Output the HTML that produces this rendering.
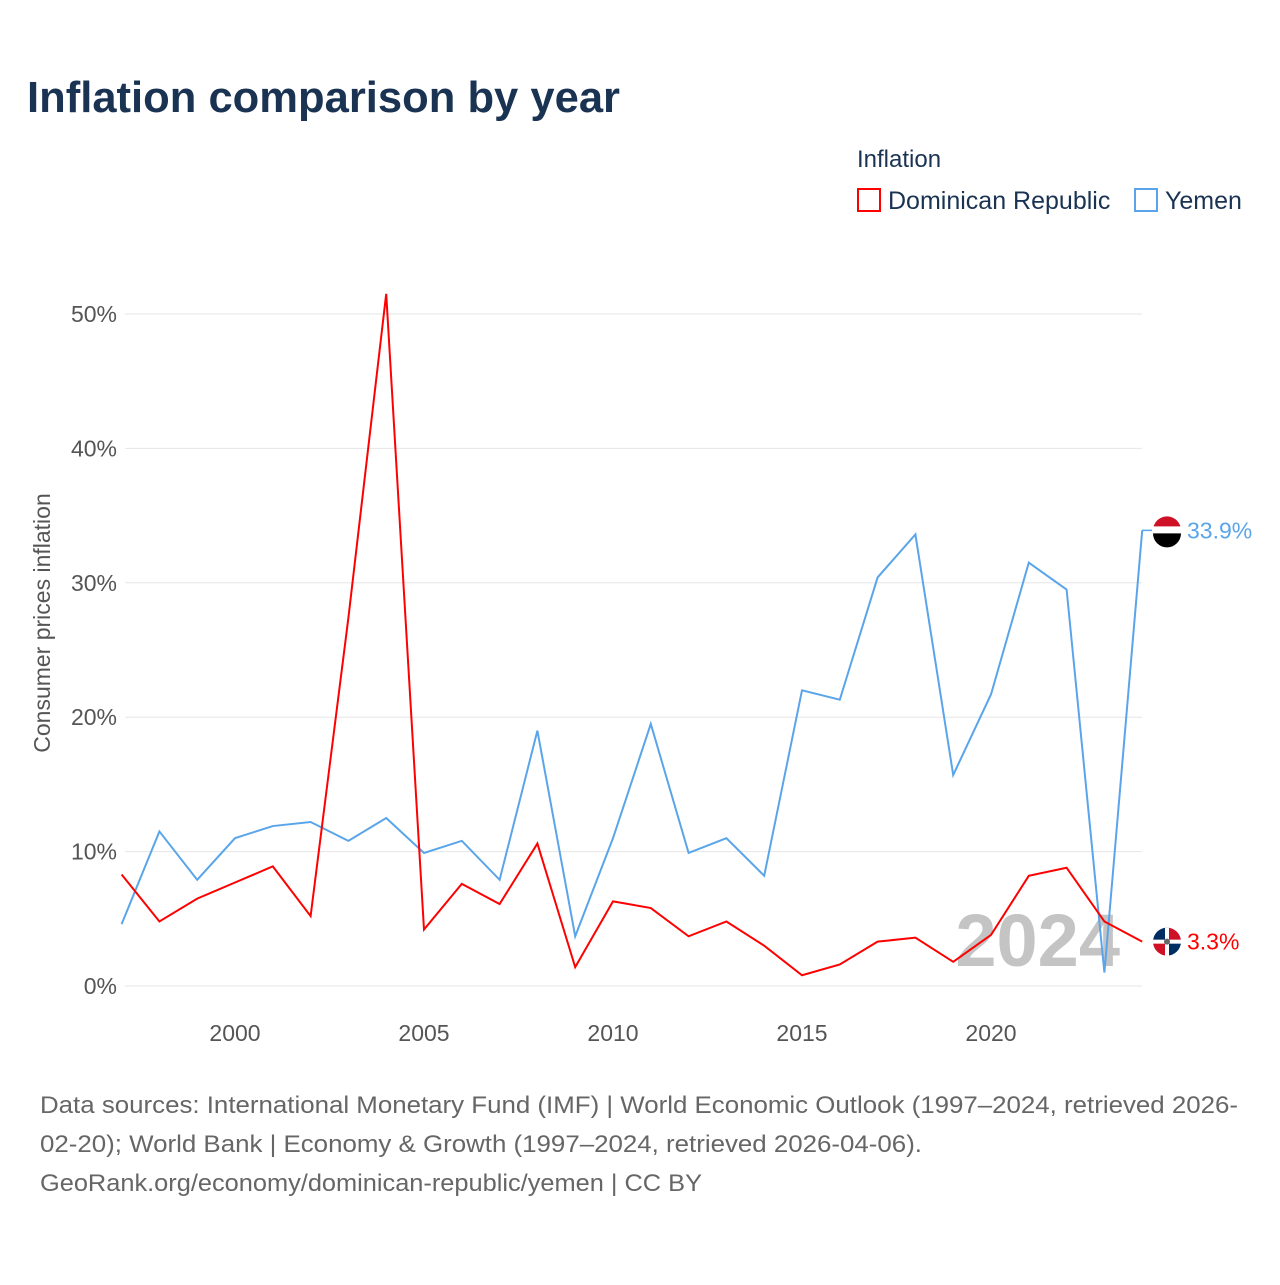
<!DOCTYPE html>
<html><head><meta charset="utf-8"><style>
body{margin:0;background:#fff;font-family:"Liberation Sans",sans-serif}
svg text{font-family:"Liberation Sans",sans-serif}
</style></head><body>
<svg width="1280" height="1280" xmlns="http://www.w3.org/2000/svg">
<text x="27" y="112" font-size="44" font-weight="bold" fill="#1a3353" textLength="593" lengthAdjust="spacingAndGlyphs">Inflation comparison by year</text>
<text x="857" y="167" font-size="24" fill="#1a3353">Inflation</text>
<g><rect x="858" y="189" width="22" height="22" fill="#fff" stroke="#f00" stroke-width="2"/><text x="888" y="209" font-size="25" fill="#1a3353">Dominican Republic</text></g>
<g><rect x="1135" y="189" width="22" height="22" fill="#fff" stroke="#5aa5ea" stroke-width="2"/><text x="1165" y="209" font-size="25" fill="#1a3353">Yemen</text></g>
<g id="grid"></g>
<g id="yt"></g>
<g id="xt"></g>
<text transform="translate(50,623) rotate(-90)" text-anchor="middle" font-size="23" fill="#555">Consumer prices inflation</text>
<text x="1120" y="966" text-anchor="end" font-size="74" font-weight="bold" fill="#c4c4c4">2024</text>
<g id="series"></g>
<text x="40" y="1113" font-size="24" fill="#666" textLength="1198" lengthAdjust="spacingAndGlyphs">Data sources: International Monetary Fund (IMF) | World Economic Outlook (1997–2024, retrieved 2026-</text>
<text x="40" y="1152" font-size="24" fill="#666" textLength="882" lengthAdjust="spacingAndGlyphs">02-20); World Bank | Economy &amp; Growth (1997–2024, retrieved 2026-04-06).</text>
<text x="40" y="1191" font-size="24" fill="#666" textLength="662" lengthAdjust="spacingAndGlyphs">GeoRank.org/economy/dominican-republic/yemen | CC BY</text>
</svg>
<script>
const years=[1997,1998,1999,2000,2001,2002,2003,2004,2005,2006,2007,2008,2009,2010,2011,2012,2013,2014,2015,2016,2017,2018,2019,2020,2021,2022,2023,2024];
const drValues=[8.3,4.8,6.5,7.7,8.9,5.2,27.4,51.5,4.2,7.6,6.1,10.6,1.4,6.3,5.8,3.7,4.8,3.0,0.8,1.6,3.3,3.6,1.8,3.8,8.2,8.8,4.8,3.3];
const yemenValues=[4.6,11.5,7.9,11.0,11.9,12.2,10.8,12.5,9.9,10.8,7.9,19.0,3.7,11.0,19.5,9.9,11.0,8.2,22.0,21.3,30.4,33.6,15.7,21.7,31.5,29.5,1.0,33.9];
const yTicks=[0,10,20,30,40,50];
const xTicks=[2000,2005,2010,2015,2020];
const NS="http://www.w3.org/2000/svg";
const x=v=>121.6+(v-1997)*37.8;
const y=v=>986-v*13.44;
function mk(t,a,p){const e=document.createElementNS(NS,t);for(const k in a)e.setAttribute(k,a[k]);p.appendChild(e);return e;}
const grid=document.getElementById('grid'),yt=document.getElementById('yt'),xt=document.getElementById('xt'),S=document.getElementById('series');
yTicks.forEach(t=>{
 const l=mk('line',{x1:125,x2:1142,y1:y(t),y2:y(t),stroke:'#e6e6e6','stroke-width':1},grid);
 
 
 const tx=mk('text',{x:117,y:y(t)+8,'text-anchor':'end','font-size':23,fill:'#555'},yt);
 tx.textContent=t+'%';
 
 
});
xTicks.forEach(t=>{
 const tx=mk('text',{x:x(t),y:1041,'text-anchor':'middle','font-size':23,fill:'#555'},xt);
 tx.textContent=t;
 
 
});
function line(vals,color,name){
 const p=mk('polyline',{points:vals.map((v,i)=>x(years[i])+','+y(v)).join(' '),fill:'none',stroke:color,'stroke-width':2},S);
 
 
}
line(yemenValues,'#5aa5ea','yemen-line');
line(drValues,'#f00','dominican-republic-line');
const last=years.length-1;
const yy=y(yemenValues[last]),dy=y(drValues[last]);
const f1=mk('g',{},S);
mk('line',{x1:1142,x2:1152,y1:yy,y2:yy,stroke:'#5aa5ea','stroke-width':1.5},f1);
mk('path',{d:`M1153 ${yy} a14 14 0 0 1 28 0z`,fill:'#ce1126'},f1);
mk('rect',{x:1153,y:yy-4,width:28,height:8,fill:'#fff'},f1);
mk('path',{d:`M1153 ${yy+3} a14 14 0 0 0 28 0z`,fill:'#000'},f1);
const t1=mk('text',{x:1187,y:yy+8,'font-size':23,fill:'#5aa5ea'},S);t1.textContent=yemenValues[last]+'%';

const f2=mk('g',{},S);
mk('circle',{cx:1167,cy:dy,r:14,fill:'#fff'},f2);
mk('path',{d:`M1167 ${dy} L1167 ${dy-14} A14 14 0 0 0 1153 ${dy}z`,fill:'#002d62'},f2);
mk('path',{d:`M1167 ${dy} L1181 ${dy} A14 14 0 0 1 1167 ${dy+14}z`,fill:'#002d62'},f2);
mk('path',{d:`M1167 ${dy} L1167 ${dy-14} A14 14 0 0 1 1181 ${dy}z`,fill:'#ce1126'},f2);
mk('path',{d:`M1167 ${dy} L1153 ${dy} A14 14 0 0 0 1167 ${dy+14}z`,fill:'#ce1126'},f2);
mk('rect',{x:1153,y:dy-2,width:28,height:4,fill:'#fff'},f2);
mk('rect',{x:1165,y:dy-14,width:4,height:28,fill:'#fff'},f2);
mk('circle',{cx:1167,cy:dy,r:3,fill:'#666'},f2);
const t2=mk('text',{x:1187,y:dy+8,'font-size':23,fill:'#f00'},S);t2.textContent=drValues[last]+'%';

</script>
</body></html>
